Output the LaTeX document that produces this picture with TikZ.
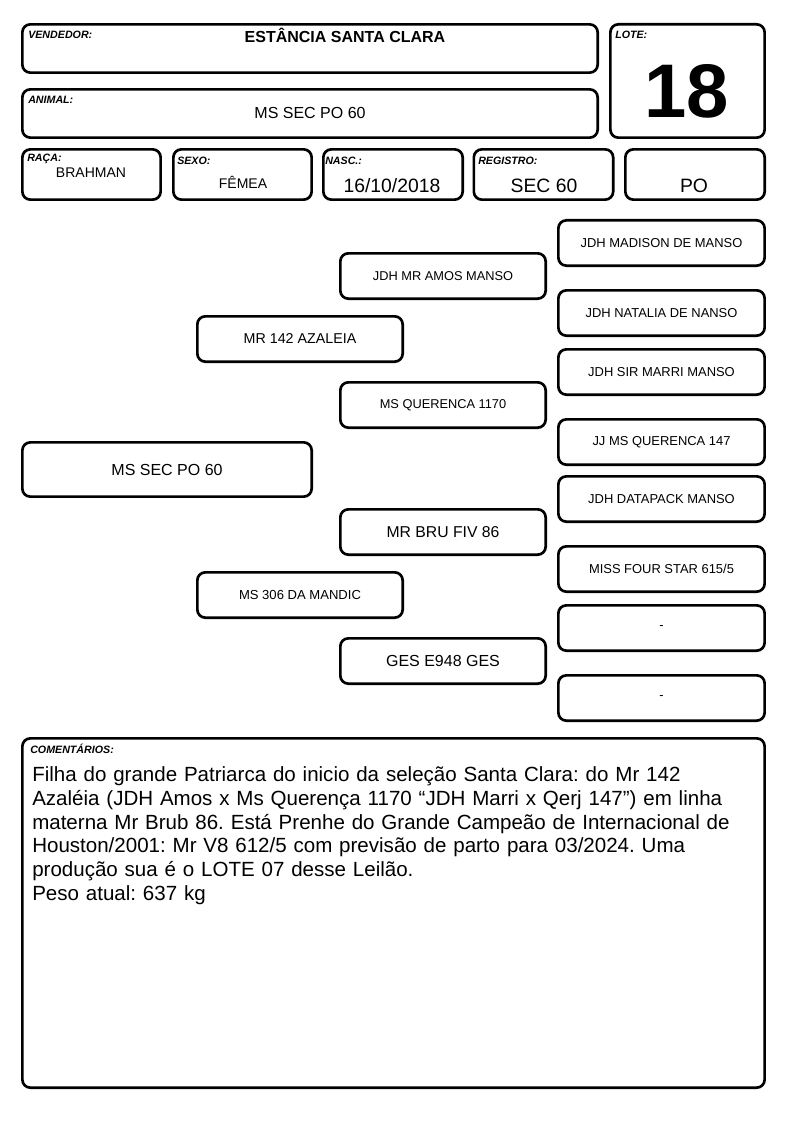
\documentclass[tikz,border=0pt]{standalone}
\usepackage{fontspec}
\setmainfont{Liberation Sans}
\usetikzlibrary{positioning}
\frenchspacing

\tikzset{
    card/.style={draw=black,line width=2pt,rounded corners=6pt,inner sep=0pt},
    tag/.style={anchor=base west,inner sep=0pt,font=\fontsize{8}{9}\selectfont\bfseries\itshape},
    ped/.style={card,minimum width=154pt,minimum height=34pt},
    far/.style={card,minimum width=154.7pt,minimum height=34pt,font=\fontsize{9.7}{11}\selectfont},
}

\begin{document}
\begin{tikzpicture}[x=0.75pt,y=-0.75pt]
    	\useasboundingbox (0,0) rectangle (794,1123);

    	% header
    	\node (vend) [card,minimum width=431.5pt,minimum height=36.2pt] at (310,48.5) {};
    	\node (animal) [card,minimum width=431.5pt,minimum height=36.2pt] at (310,113.5) {};
    	\node (lote) [card,minimum width=115.7pt,minimum height=85pt] at (687.5,81) {};
    	\node (raca) [card,minimum width=103.7pt,minimum height=37.7pt] at (91.5,174.5) {};
    	\node (sexo) [card,minimum width=103.7pt,minimum height=37.7pt] at (242.5,174.5) {};
    	\node (nasc) [card,minimum width=104.5pt,minimum height=37.7pt] at (393,174.5) {};
    	\node (reg) [card,minimum width=104.5pt,minimum height=37.7pt] at (543.5,174.5) {};
    	\node (po) [card,minimum width=104.5pt,minimum height=37.7pt] at (695,174.5) {};

    	\node (vendtag) [tag] at (28,39) {VENDEDOR:};
    	\node (vendtxt) [anchor=base,inner sep=0pt,font=\fontsize{12}{14}\selectfont\bfseries] at (345,43) {ESTÂNCIA SANTA CLARA};
    	\node (animaltag) [tag] at (28,104) {ANIMAL:};
    	\node (animaltxt) [anchor=base,inner sep=0pt,font=\fontsize{12}{14}\selectfont] at (310,119) {MS SEC PO 60};
    	\node (lotetag) [tag] at (615,39) {LOTE:};
    	\node (lotetxt) [anchor=base,inner sep=0pt,font=\fontsize{57}{60}\selectfont\bfseries] at (687,118) {18};
    	\node (racatag) [tag] at (27,162) {RAÇA:};
    	\node (racatxt) [anchor=base,inner sep=0pt,font=\fontsize{10.5}{12}\selectfont] at (91,178) {BRAHMAN};
    	\node (sexotag) [tag] at (177,165) {SEXO:};
    	\node (sexotxt) [anchor=base,inner sep=0pt,font=\fontsize{10.5}{12}\selectfont] at (243,189) {FÊMEA};
    	\node (nasctag) [tag] at (325,165) {NASC.:};
    	\node (nasctxt) [anchor=base,inner sep=0pt,font=\fontsize{14.5}{16}\selectfont] at (392,193) {16/10/2018};
    	\node (regtag) [tag] at (478,165) {REGISTRO:};
    	\node (regtxt) [anchor=base,inner sep=0pt,font=\fontsize{14.5}{16}\selectfont] at (544,193) {SEC 60};
    	\node (potxt) [anchor=base,inner sep=0pt,font=\fontsize{14.5}{16}\selectfont] at (694,193) {PO};

    	% pedigree
    	\node (self) [card,minimum width=217pt,minimum height=40.7pt,font=\fontsize{12}{14}\selectfont] at (167,469.5) {MS SEC PO 60};
    	\node (sire) [ped,font=\fontsize{10.7}{12}\selectfont] at (300,339) {MR 142 AZALEIA};
    	\node (dam) [ped,font=\fontsize{9.8}{11}\selectfont] at (300,595) {MS 306 DA MANDIC};
    	\node (ss) [ped,font=\fontsize{9.6}{11}\selectfont] at (443,276) {JDH MR AMOS MANSO};
    	\node (sd) [ped,font=\fontsize{9.6}{11}\selectfont] at (443,405) {MS QUERENCA 1170};
    	\node (ds) [ped,font=\fontsize{11.8}{13}\selectfont] at (443,532) {MR BRU FIV 86};
    	\node (dd) [ped,font=\fontsize{12}{14}\selectfont] at (443,661) {GES E948 GES};
    	\node (sss) [far] at (661.5,243) {JDH MADISON DE MANSO};
    	\node (ssd) [far] at (661.5,313) {JDH NATALIA DE NANSO};
    	\node (sds) [far] at (661.5,372) {JDH SIR MARRI MANSO};
    	\node (sdd) [far] at (661.5,442) {JJ MS QUERENCA 147};
    	\node (dss) [far] at (661.5,499) {JDH DATAPACK MANSO};
    	\node (dsd) [far] at (661.5,569) {MISS FOUR STAR 615/5};
    	\node (dds) [far] at (661.5,628) {-};
    	\node (ddd) [far] at (661.5,698) {-};

    	% comments
    	\node (coment) [card,minimum width=556.7pt,minimum height=262pt] at (393.5,913) {};
    	\node (comenttag) [tag] at (30,753) {COMENTÁRIOS:};
    	\node (comenttxt) [anchor=base west,inner sep=0pt,text width=550pt,align=left,font=\fontsize{15.4}{17.8}\selectfont] at (32,781.7)
    	    {Filha do grande Patriarca do inicio da seleção Santa Clara: do Mr 142\\
    	     Azaléia (JDH Amos x Ms Querença 1170 “JDH Marri x Qerj 147”) em linha\\
    	     materna Mr Brub 86. Está Prenhe do Grande Campeão de Internacional de\\
    	     Houston/2001: Mr V8 612/5 com previsão de parto para 03/2024. Uma\\
    	     produção sua é o LOTE 07 desse Leilão.\\
    	     Peso atual: 637 kg};
\end{tikzpicture}
\end{document}
